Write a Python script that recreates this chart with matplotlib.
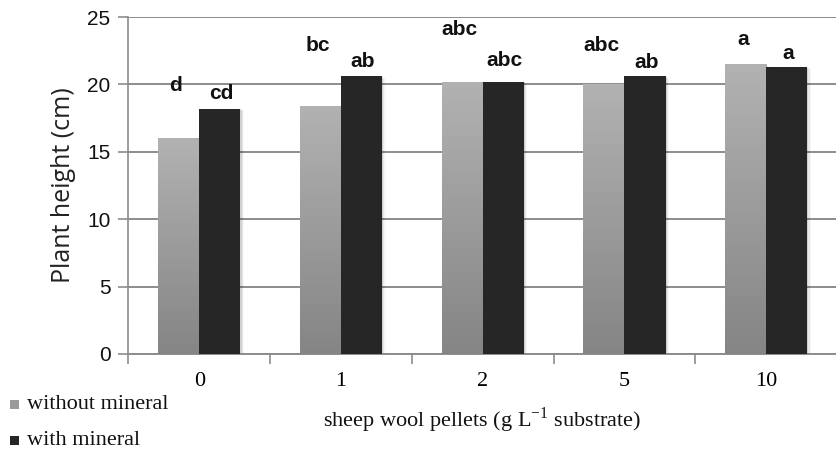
import numpy as np
import matplotlib
matplotlib.use("Agg")
import matplotlib.pyplot as plt
from matplotlib.patches import Rectangle
from matplotlib.colors import LinearSegmentedColormap

# ── data ──────────────────────────────────────────────────────────────────────
doses = ["0", "1", "2", "5", "10"]
without_mineral = [16.0, 18.4, 20.2, 20.0, 21.5]
with_mineral = [18.2, 20.6, 20.2, 20.6, 21.3]
letters_without = ["d", "bc", "abc", "abc", "a"]
letters_with = ["cd", "ab", "abc", "ab", "a"]

# letter heights as placed in the original (data units)
letter_y_without = [19.9, 22.9, 24.1, 22.9, 23.3]
letter_y_with = [19.3, 21.7, 21.8, 21.6, 22.3]

SERIF = ["Liberation Serif", "DejaVu Serif"]
SANS = ["Liberation Sans", "DejaVu Sans"]

fig = plt.figure(figsize=(8.37, 4.57), dpi=100)
ax = fig.add_axes([0.1535, 0.2254, 0.8465, 0.7374])

x = np.arange(len(doses))
w = 0.29
grid_c = "#8c8c8c"

ax.set_ylim(0, 25)
ax.set_xlim(-0.5, 4.455)
ax.set_yticks(range(0, 26, 5))
ax.yaxis.grid(True, color=grid_c, linewidth=1.4)
ax.set_axisbelow(True)

# light bars with vertical gradient
grad = np.linspace(0, 1, 256).reshape(-1, 1)
light_cmap = LinearSegmentedColormap.from_list("g", ["#858585", "#b2b2b2"])
for xi, v in zip(x, without_mineral):
    for k, a in enumerate([0.10, 0.06, 0.03]):
        ax.add_patch(Rectangle((xi - w + 0.008 * (k + 1), 0), w, v - 0.05 * (k + 1),
                               facecolor="black", alpha=a, linewidth=0, zorder=2))
    bar = ax.bar(xi - w / 2, v, w, color="#a0a0a0", linewidth=0, zorder=3)[0]
    im = ax.imshow(grad, cmap=light_cmap, origin="lower", aspect="auto",
                   extent=(xi - w, xi, 0, v), zorder=3.1)
    im.set_clip_path(bar)

for xi, v in zip(x, with_mineral):
    for k, a in enumerate([0.10, 0.06, 0.03]):
        ax.add_patch(Rectangle((xi + 0.008 * (k + 1), 0), w, v - 0.05 * (k + 1),
                               facecolor="black", alpha=a, linewidth=0, zorder=2))
    ax.bar(xi + w / 2, v, w, color="#262626", linewidth=0, zorder=4)

ax.set_xlim(-0.5, 4.455)
ax.set_ylim(0, 25)

for xi, t, yy in zip(x, letters_without, letter_y_without):
    ax.text(xi - w / 2 - 0.02, yy, t, ha="center", va="center", fontsize=15,
            fontweight="bold", family=SANS, color="#111111", zorder=5)
for xi, t, yy in zip(x, letters_with, letter_y_with):
    ax.text(xi + w / 2 + 0.01, yy, t, ha="center", va="center", fontsize=15,
            fontweight="bold", family=SANS, color="#111111", zorder=5)

# axes styling
for s in ["top", "right"]:
    ax.spines[s].set_visible(False)
ax.spines["left"].set_color(grid_c)
ax.spines["bottom"].set_color(grid_c)
ax.spines["left"].set_linewidth(1.2)
ax.spines["bottom"].set_linewidth(1.4)

ax.set_xticks(np.arange(-0.5, 4.6, 1.0))
ax.set_xticklabels([])
ax.tick_params(axis="x", which="major", length=7, color=grid_c, width=1.2)
ax.set_xticks(x, minor=True)
ax.set_xticklabels(doses, minor=True, family=SERIF, fontsize=16)
ax.tick_params(axis="x", which="minor", length=0, pad=13)
ax.tick_params(axis="y", length=7, color=grid_c, width=1.2, labelsize=15, pad=6)
for lab in ax.get_yticklabels():
    lab.set_family(SANS)
    lab.set_color("#111111")

ax.set_ylabel("Plant height (cm)", fontsize=18, family=["Open Sans", "DejaVu Sans"],
              color="#222222", labelpad=8)
fig.text(0.576, 0.081, "sheep wool pellets (g L$^{\\mathregular{-1}}$ substrate)",
         ha="center", va="center", fontsize=16, family=SERIF, color="#111111")

# legend at bottom left
fig.patches.append(Rectangle((0.012, 0.104), 0.011, 0.021, transform=fig.transFigure,
                             facecolor="#9a9a9a", edgecolor="none"))
fig.text(0.032, 0.114, "without mineral", ha="left", va="center", fontsize=16,
         family=SERIF, color="#111111")
fig.patches.append(Rectangle((0.012, 0.026), 0.011, 0.021, transform=fig.transFigure,
                             facecolor="#262626", edgecolor="none"))
fig.text(0.032, 0.036, "with mineral", ha="left", va="center", fontsize=16,
         family=SERIF, color="#111111")

fig.savefig("out.png", dpi=100)
